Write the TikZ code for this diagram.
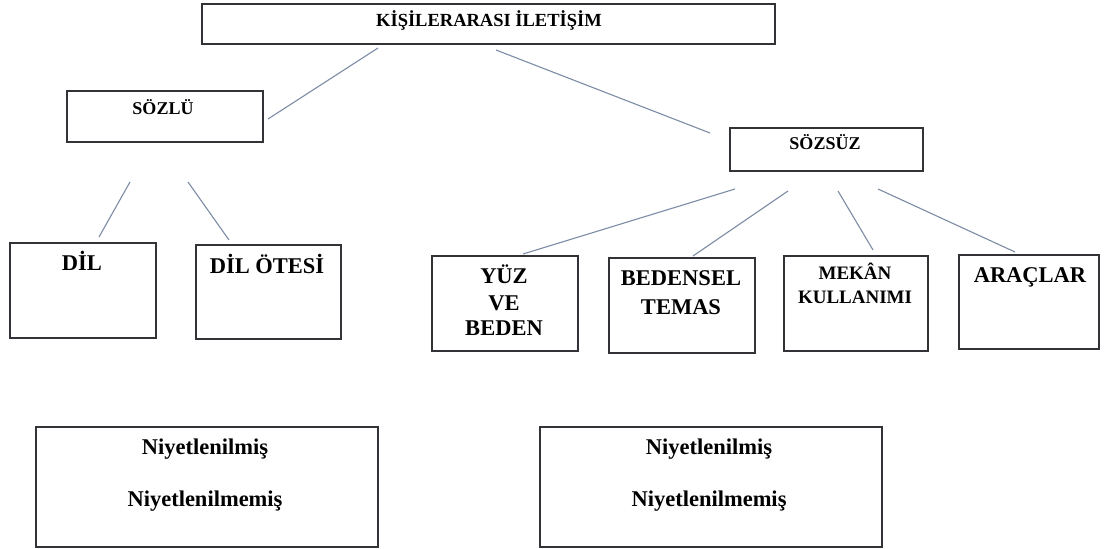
\documentclass[tikz,border=0pt]{standalone}
\usepackage{fontspec}
\setmainfont{Liberation Serif}
\definecolor{boxline}{RGB}{50,50,55}
\definecolor{conn}{RGB}{125,140,165}
\tikzset{
  x=1pt, y=-1pt,
  boxnode/.style={draw=boxline, line width=1.9pt, fill=white, inner sep=0pt, anchor=north west},
  lbl/.style={inner sep=0pt, anchor=base, font=\bfseries\fontsize{#1}{#1}\selectfont},
  lbl/.default=22.5,
  connector/.style={draw=conn, line width=1.1pt}
}
\newcommand{\bx}[5]{\node[boxnode, minimum width=#4pt, minimum height=#5pt] (#1) at (#2,#3) {};}
\begin{document}
\begin{tikzpicture}
\useasboundingbox (0,0) rectangle (1104,549);
\fill[white] (0,0) rectangle (1104,549);
% boxes
\bx{top}{201}{3}{573}{40}
\bx{sozlu}{66}{90}{196}{51}
\bx{sozsuz}{729}{127}{193}{43}
\bx{dil}{9}{242}{146}{95}
\bx{dilotesi}{195}{244}{145}{94}
\bx{yuz}{431}{255}{146}{95}
\bx{bedensel}{608}{257}{146}{95}
\bx{mekan}{783}{255}{144}{95}
\bx{araclar}{958}{254}{140}{94}
\bx{niyA}{35}{426}{342}{120}
\bx{niyB}{539}{426}{342}{120}
% labels
\node[lbl=18.5] (ttop) at (489,26) {KİŞİLERARASI İLETİŞİM};
\node[lbl=18] (tsozlu) at (163,114) {SÖZLÜ};
\node[lbl=18] (tsozsuz) at (825,149) {SÖZSÜZ};
\node[lbl] (tdil) at (82,270) {DİL};
\node[lbl] (tdilotesi) at (267,273) {DİL ÖTESİ};
\node[lbl] (tyuzA) at (504,283) {YÜZ};
\node[lbl] (tyuzB) at (504,310) {VE};
\node[lbl] (tyuzC) at (504,335) {BEDEN};
\node[lbl] (tbedA) at (681,285) {BEDENSEL};
\node[lbl] (tbedB) at (681,314) {TEMAS};
\node[lbl=19] (tmekA) at (855,279) {MEKÂN};
\node[lbl=19] (tmekB) at (855,303) {KULLANIMI};
\node[lbl] (tarac) at (1030,282) {ARAÇLAR};
\node[lbl] (tniyA1) at (205,454) {Niyetlenilmiş};
\node[lbl] (tniyA2) at (205,506) {Niyetlenilmemiş};
\node[lbl] (tniyB1) at (709,454) {Niyetlenilmiş};
\node[lbl] (tniyB2) at (709,506) {Niyetlenilmemiş};
% connector end points
\coordinate (c1a) at (378,48);  \coordinate (c1b) at (268,119);
\coordinate (c2a) at (496,50);  \coordinate (c2b) at (710,133);
\coordinate (c3a) at (130,182); \coordinate (c3b) at (99,237);
\coordinate (c4a) at (188,182); \coordinate (c4b) at (229,240);
\coordinate (c5a) at (735,189); \coordinate (c5b) at (523,254);
\coordinate (c6a) at (788,191); \coordinate (c6b) at (693,256);
\coordinate (c7a) at (838,191); \coordinate (c7b) at (873,250);
\coordinate (c8a) at (878,189); \coordinate (c8b) at (1015,252);
\foreach \c in {1,...,8} { \draw[connector] (c\c a) -- (c\c b); }
\end{tikzpicture}
\end{document}
